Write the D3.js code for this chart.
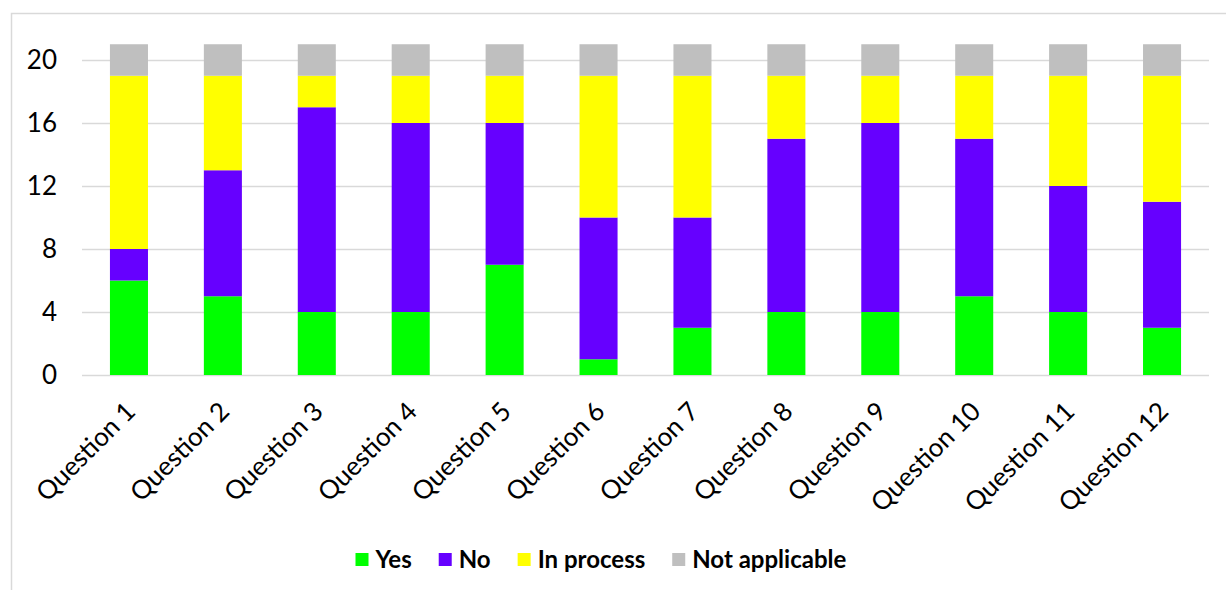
<!DOCTYPE html>
<html><head><meta charset="utf-8">
<script src="https://cdn.jsdelivr.net/npm/d3@7"></script>
<style>html,body{margin:0;padding:0;background:#fff;}svg{display:block;}</style>
</head><body>
<svg id="chart" width="1226" height="590"></svg>
<script>
const categories = ["Question 1","Question 2","Question 3","Question 4","Question 5","Question 6","Question 7","Question 8","Question 9","Question 10","Question 11","Question 12"];
const yesValues = [6,5,4,4,7,1,3,4,4,5,4,3];
const noValues = [2,8,13,12,9,9,7,11,12,10,8,8];
const inProcessValues = [11,6,2,3,3,9,9,4,3,4,7,8];
const notApplicableValues = [2,2,2,2,2,2,2,2,2,2,2,2];
const seriesNames = ["Yes","No","In process","Not applicable"];
const seriesColors = ["#00ff00","#6600ff","#ffff00","#bfbfbf"];
const yTicks = [0,4,8,12,16,20];

const svg = d3.select("#chart");
const font = "Lato, 'Open Sans', sans-serif";
const x = d3.scaleBand().domain(categories).range([82, 1209]).paddingInner(0.595).paddingOuter(0.2975);
const y = d3.scaleLinear().domain([0,21]).range([375, 375-21*15.75]);

// outer border
svg.append("rect").attr("x",11.5).attr("y",13.5).attr("width",1240).attr("height",620)
  .attr("fill","none").attr("stroke","#d9d9d9").attr("stroke-width",1.5);

// gridlines
svg.append("g").selectAll("line").data(yTicks).join("line")
  .attr("x1",82).attr("x2",1209).attr("y1",d=>y(d)+0.5).attr("y2",d=>y(d)+0.5)
  .attr("stroke","#d9d9d9").attr("stroke-width",1.5);

// y axis labels
const yAxis = d3.axisLeft(y).tickValues(yTicks).tickSize(0).tickPadding(25);
const gy = svg.append("g").attr("transform","translate(82,0)").call(yAxis);
gy.select(".domain").remove();
gy.selectAll("text").attr("font-family",font).attr("font-size",26).attr("fill","#000");

// stacked data
const rows = categories.map((c,i)=>({cat:c, "Yes":yesValues[i], "No":noValues[i], "In process":inProcessValues[i], "Not applicable":notApplicableValues[i]}));
const stack = d3.stack().keys(seriesNames)(rows);
svg.append("g").selectAll("g").data(stack).join("g")
  .attr("fill",(d,i)=>seriesColors[i])
  .selectAll("rect").data(d=>d).join("rect")
  .attr("x",d=>x(d.data.cat)).attr("width",x.bandwidth())
  .attr("y",d=>y(d[1])).attr("height",d=>y(d[0])-y(d[1]));

// x axis labels
const xAxis = d3.axisBottom(x).tickSize(0).tickPadding(0);
const gx = svg.append("g").attr("transform","translate(0,375)").call(xAxis);
gx.select(".domain").remove();
gx.selectAll("text").attr("font-family",font).attr("font-size",26).attr("fill","#000")
  .attr("text-anchor","end").attr("dy",0).attr("y",0)
  .attr("transform","translate(8,38) rotate(-45)");

// legend
const legend = svg.append("g").attr("transform","translate(0,560)");
const items = legend.selectAll("g").data(seriesNames).join("g");
items.append("rect").attr("width",13).attr("height",13).attr("y",-7).attr("fill",(d,i)=>seriesColors[i]);
items.append("text").attr("x",20).attr("dy","0.35em").text(d=>d)
  .attr("font-family",font).attr("font-size",24).attr("font-weight","bold").attr("fill","#000");
let widths = [];
items.each(function(){ widths.push(this.getBBox().width); });
const gap = 27;
const total = d3.sum(widths) + gap*(widths.length-1);
let cx = 601 - total/2;
items.attr("transform",(d,i)=>{ const t=`translate(${cx},0)`; cx += widths[i]+gap; return t; });
</script>
</body></html>
